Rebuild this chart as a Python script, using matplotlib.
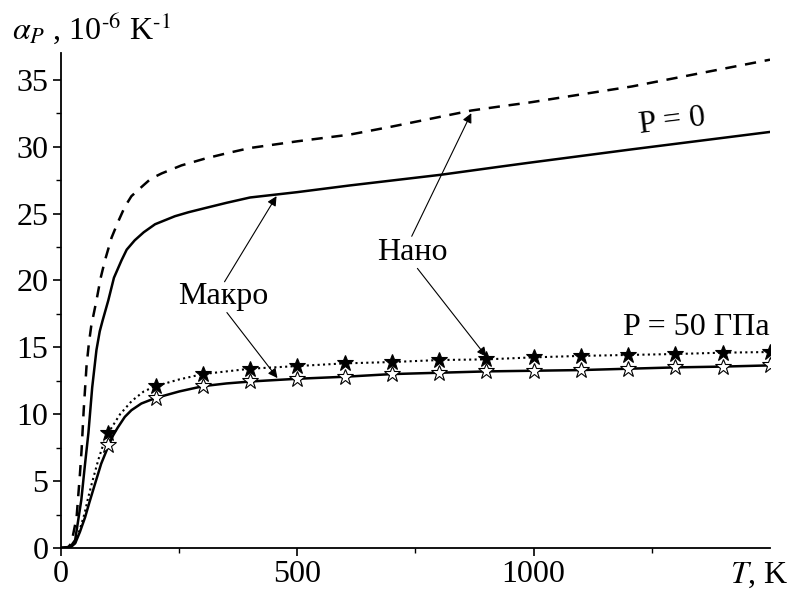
import numpy as np
import matplotlib
matplotlib.use('Agg')
import matplotlib.pyplot as plt
from matplotlib.ticker import FixedLocator, MultipleLocator

plt.rcParams['font.family'] = ['Liberation Serif', 'DejaVu Serif']
plt.rcParams['mathtext.fontset'] = 'stix'

# P = 0, macro (solid)
T_macro0 = [0, 20, 30, 43, 50, 58, 66, 75, 82, 88, 100, 112, 128, 139, 156, 175, 199, 220,
            241, 270, 304, 350, 400, 500, 611, 804, 928, 991, 1208, 1500]
a_macro0 = [0, 0.1, 0.6, 3.6, 6.0, 8.6, 12.0, 14.8, 16.2, 17.0, 18.5, 20.2, 21.5, 22.3, 23.0,
            23.6, 24.2, 24.5, 24.8, 25.1, 25.4, 25.8, 26.2, 26.6, 27.1, 27.9, 28.5, 28.8,
            29.8, 31.1]

# P = 0, nano (dashed)
T_nano0 = [0, 15, 22, 33, 40, 43.5, 48, 54, 59, 64, 75, 84, 93, 107, 121, 135, 149, 174,
           190, 213, 255, 304, 350, 400, 500, 611, 700, 868, 928, 991, 1208, 1500]
a_nano0 = [0, 0.05, 0.35, 2.3, 5.5, 7.3, 10.3, 13.6, 15.3, 16.6, 18.5, 20.2, 21.5, 23.2,
           24.4, 25.5, 26.3, 27.1, 27.6, 28.0, 28.6, 29.1, 29.5, 29.9, 30.4, 30.9, 31.5,
           32.7, 33.0, 33.3, 34.5, 36.5]

# P = 50 GPa, macro (solid + open stars)
T_macro50 = [0, 20, 30, 40, 51, 60, 72, 85, 100, 110, 120, 135, 149, 170, 199, 250, 301,
             350, 403, 500, 600, 700, 800, 900, 1000, 1100, 1200, 1300, 1400, 1500]
a_macro50 = [0, 0.05, 0.35, 1.2, 2.3, 3.4, 4.8, 6.3, 7.6, 8.4, 9.0, 9.8, 10.3, 10.8, 11.2,
             11.7, 12.1, 12.3, 12.45, 12.65, 12.8, 13.0, 13.1, 13.2, 13.25, 13.3, 13.4,
             13.5, 13.56, 13.65]

# P = 50 GPa, nano (dotted + filled stars)
T_nano50 = [0, 20, 30, 40, 50, 57, 65, 79, 90, 100, 125, 150, 175, 200, 250, 300, 350, 400,
            500, 600, 700, 800, 900, 1000, 1100, 1200, 1300, 1400, 1500]
a_nano50 = [0, 0.05, 0.4, 1.4, 2.6, 3.7, 4.8, 6.6, 7.8, 8.6, 10.0, 11.0, 11.7, 12.1, 12.6,
            13.0, 13.2, 13.4, 13.6, 13.8, 13.9, 14.05, 14.1, 14.25, 14.36, 14.43, 14.5,
            14.6, 14.65]

T_stars = [100, 200, 300, 400, 500, 600, 700, 800, 900, 1000, 1100, 1200, 1300, 1400, 1500]
stars_nano50 = [8.6, 12.1, 13.0, 13.4, 13.6, 13.8, 13.9, 14.05, 14.1, 14.25, 14.36, 14.43,
                14.5, 14.6, 14.65]
stars_macro50 = [7.7, 11.2, 12.1, 12.45, 12.65, 12.8, 13.0, 13.1, 13.2, 13.25, 13.3, 13.4,
                 13.5, 13.56, 13.65]

x_major = [0, 500, 1000]
x_minor = [250, 750, 1250]

fig = plt.figure(figsize=(7.92, 5.93), dpi=100)
ax = fig.add_axes([61 / 792, 1 - 548 / 593, (770 - 61) / 792, (548 - 53) / 593])

lw = 1.8
ax.plot(T_nano0, a_nano0, color='black', lw=lw, linestyle=(0, (4.5, 3.5)))
ax.plot(T_macro0, a_macro0, color='black', lw=lw)
ax.plot(T_nano50, a_nano50, color='black', lw=1.5, linestyle=(0, (1, 1.6)))
ax.plot(T_macro50, a_macro50, color='black', lw=lw)
ax.plot(T_stars, stars_nano50, linestyle='none', marker='*', ms=12,
        mfc='black', mec='black', mew=0.8)
ax.plot(T_stars, stars_macro50, linestyle='none', marker='*', ms=12,
        mfc='white', mec='black', mew=0.8)

ax.set_xlim(0, 1500)
ax.set_ylim(0, 37)
ax.xaxis.set_major_locator(FixedLocator(x_major))
ax.xaxis.set_minor_locator(FixedLocator(x_minor))
ax.yaxis.set_major_locator(MultipleLocator(5))
ax.yaxis.set_minor_locator(MultipleLocator(2.5))
ax.spines['top'].set_visible(False)
ax.spines['right'].set_visible(False)
for s in ['left', 'bottom']:
    ax.spines[s].set_linewidth(1.3)
ax.tick_params(which='major', direction='out', length=6, width=1.2, labelsize=23, pad=3)
ax.tick_params(which='minor', direction='out', length=3.5, width=1.0)

fs = 23
arrow = dict(arrowstyle='-|>', color='black', lw=0.8, mutation_scale=14, shrinkA=0, shrinkB=0)
ax.text(344, 18.8, 'Макро', fontsize=fs, ha='center', va='center')
ax.annotate('', xy=(456, 26.3), xytext=(346, 19.9), arrowprops=arrow)
ax.annotate('', xy=(458, 12.7), xytext=(351, 17.6), arrowprops=arrow)
ax.text(744, 22.1, 'Нано', fontsize=fs, ha='center', va='center')
ax.annotate('', xy=(868, 32.5), xytext=(742, 23.3), arrowprops=arrow)
ax.annotate('', xy=(900, 14.3), xytext=(754, 20.9), arrowprops=arrow)
ax.text(1293, 31.9, 'P = 0', fontsize=fs, ha='center', va='center', rotation=7)
ax.text(1344, 16.5, 'P = 50 ГПа', fontsize=fs, ha='center', va='center')

fig.text(12 / 792, 1 - 28 / 593,
         r'$\alpha_P$ , 10$^{\mathrm{\text{-}6}}$ K$^{\mathrm{\text{-}1}}$',
         fontsize=fs, ha='left', va='center')
fig.text(789 / 792, 1 - 575 / 593, r'$T$, K', fontsize=fs, ha='right', va='center')

fig.savefig('out.png', dpi=100)
